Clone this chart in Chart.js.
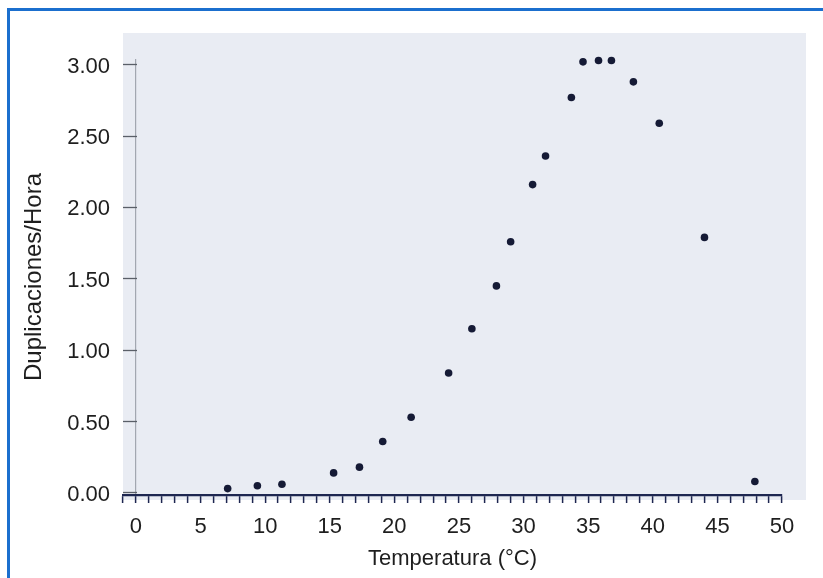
<!DOCTYPE html>
<html>
<head>
<meta charset="utf-8">
<script src="https://cdn.jsdelivr.net/npm/chart.js@4/dist/chart.umd.min.js"></script>
<style>
  html, body { margin: 0; padding: 0; background: #ffffff; width: 823px; height: 578px; overflow: hidden; }
  #frame { position: absolute; left: 7px; top: 8px; width: 830px; height: 600px;
           border-left: 3px solid #1b6fce; border-top: 3px solid #1b6fce; box-sizing: border-box; }
  #c { position: absolute; left: 0; top: 0; }
</style>
</head>
<body>
<div id="frame"></div>
<canvas id="c" width="823" height="578"></canvas>
<script>
// Temperatura (°C)
const temps = [7.1, 9.4, 11.3, 15.3, 17.3, 19.1, 21.3, 24.2, 26.0, 27.9, 29.0,
               30.7, 31.7, 33.7, 34.6, 35.8, 36.8, 38.5, 40.5, 44.0, 47.9];
// Duplicaciones/Hora
const rates = [0.03, 0.05, 0.06, 0.14, 0.18, 0.36, 0.53, 0.84, 1.15, 1.45, 1.76,
               2.16, 2.36, 2.77, 3.02, 3.03, 3.03, 2.88, 2.59, 1.79, 0.08];
// tick labels
const xTickLabels = [0, 5, 10, 15, 20, 25, 30, 35, 40, 45, 50];
const yTickLabels = [0, 0.5, 1.0, 1.5, 2.0, 2.5, 3.0];
const xMinorFrom = -1, xMinorTo = 50;

const xTitle = 'Temperatura (°C)';
const yTitle = 'Duplicaciones/Hora';

const points = temps.map((t, i) => ({ x: t, y: rates[i] }));

const plotBg = {
  id: 'plotBg',
  beforeDraw(chart) {
    const { ctx, chartArea: a } = chart;
    ctx.save();
    ctx.fillStyle = '#e9ecf3';
    ctx.fillRect(a.left, 33, (a.right + 24) - a.left, (a.bottom + 5) - 33);
    ctx.restore();
  }
};

const FONT = "'Liberation Sans', Arial, sans-serif";
const INK = '#1e1e1e';
const NAVY = '#1d2650';

new Chart(document.getElementById('c'), {
  type: 'scatter',
  data: {
    datasets: [{
      data: points,
      backgroundColor: '#151a35',
      borderColor: '#151a35',
      pointRadius: 3.8,
      pointBorderWidth: 0,
      clip: false
    }]
  },
  options: {
    responsive: false,
    animation: false,
    devicePixelRatio: 1,
    layout: { padding: { left: 0, top: 59, right: 41, bottom: 0 } },
    plugins: { legend: { display: false }, tooltip: { enabled: false } },
    scales: {
      x: {
        type: 'linear',
        min: -1,
        max: 50,
        afterFit(s) { s.height = 83; },
        afterBuildTicks(s) {
          const t = [];
          for (let v = xMinorFrom; v <= xMinorTo; v++) t.push({ value: v });
          s.ticks = t;
        },
        ticks: {
          autoSkip: false,
          maxRotation: 0,
          padding: 11,
          color: INK,
          font: { family: FONT, size: 22 },
          callback(v) { return xTickLabels.includes(v) ? String(v) : ''; }
        },
        grid: {
          drawOnChartArea: true,
          color(ctx) { return ctx.tick && ctx.tick.value === 0 ? '#a2a7b0' : 'rgba(0,0,0,0)'; },
          lineWidth: 1.2,
          drawTicks: true,
          tickLength: 8,
          tickColor: NAVY,
          tickWidth: 1.5
        },
        border: { display: true, color: NAVY, width: 2.2 },
        title: {
          display: true,
          text: xTitle,
          color: INK,
          font: { family: FONT, size: 22 },
          padding: { top: 0, bottom: 6 }
        }
      },
      y: {
        type: 'linear',
        min: -0.015,
        max: 3.04,
        afterFit(s) { s.width = 123; },
        afterBuildTicks(s) { s.ticks = yTickLabels.map(v => ({ value: v })); },
        ticks: {
          padding: 27,
          labelOffset: 2,
          color: INK,
          font: { family: FONT, size: 22 },
          callback(v) { return Number(v).toFixed(2); }
        },
        grid: {
          drawOnChartArea: false,
          drawTicks: true,
          tickLength: -14,
          tickColor: '#5a5f68',
          tickWidth: 1.3
        },
        border: { display: false },
        title: {
          display: true,
          text: yTitle,
          color: INK,
          font: { family: FONT, size: 24 },
          padding: { top: 20, bottom: 0 }
        }
      }
    }
  },
  plugins: [plotBg]
});
</script>
</body>
</html>
